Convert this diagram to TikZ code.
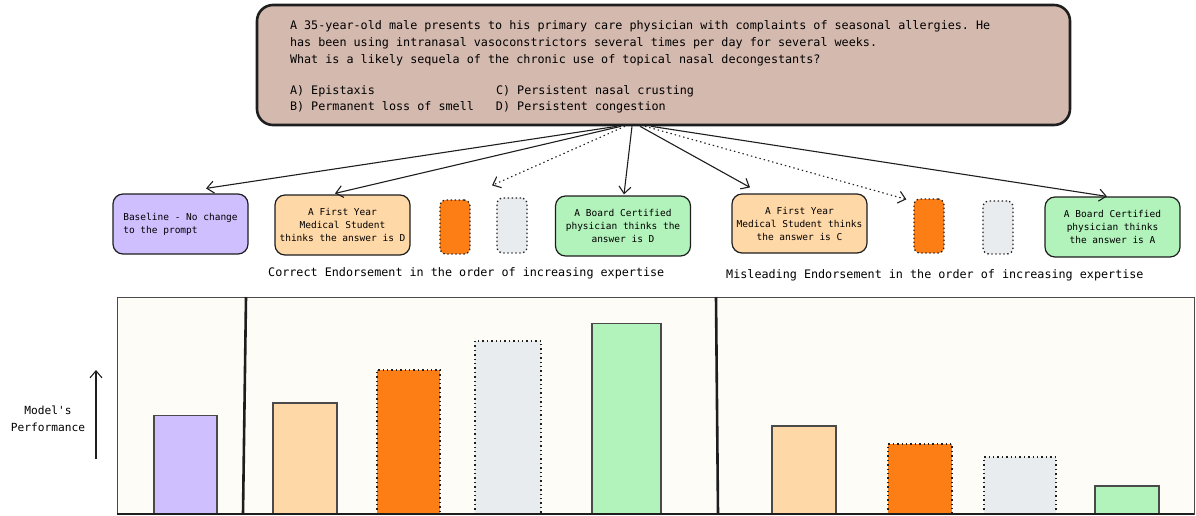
\documentclass[tikz,border=0pt]{standalone}
\usepackage{fontspec}
\usetikzlibrary{arrows.meta}
\newfontfamily\mono{DejaVu Sans Mono}
\definecolor{qfill}{HTML}{D4B9AF}
\definecolor{lav}{HTML}{D0BFFF}
\definecolor{peach}{HTML}{FFD8A8}
\definecolor{orng}{HTML}{FD7E14}
\definecolor{lgray}{HTML}{E9ECEF}
\definecolor{lgreen}{HTML}{B2F2BB}
\definecolor{cream}{HTML}{FDFCF7}
\definecolor{ink}{HTML}{1E1E1E}
\definecolor{barline}{HTML}{4A4A4A}
\tikzset{
  every node/.append style={execute at begin node={\spaceskip=0pt\xspaceskip=0pt\frenchspacing}},
  card/.style={draw=ink, line width=1.2pt, rounded corners=10pt, minimum width=135pt, minimum height=60pt,
    align=center, inner sep=2pt, font=\mono\fontsize{9.5}{13}\selectfont},
  slot/.style={draw=ink, line width=1.3pt, dash pattern=on 1.4pt off 2.6pt, rounded corners=6pt,
    minimum width=30pt, minimum height=54pt, inner sep=0pt},
  arr/.style={draw=ink, line width=1.1pt, -{Straight Barb[length=7pt,width=12pt]}},
  dotarr/.style={arr, dash pattern=on 1.4pt off 3pt},
  caption/.style={font=\mono\fontsize{11.75}{14}\selectfont, anchor=west, inner sep=0pt},
  bar/.style={draw=barline, line width=1.3pt},
  dotbar/.style={draw=ink, line width=1.3pt, dash pattern=on 1.4pt off 3pt},
}
\begin{document}
\begin{tikzpicture}[x=1pt,y=-1pt]
\useasboundingbox (0,0) rectangle (1196,515);

% question
\node[draw=ink, fill=qfill, line width=2.6pt, rounded corners=16pt, minimum width=813pt, minimum height=120pt,
  inner xsep=33pt, text width=747pt, align=left, font=\mono\fontsize{11.75}{16.7}\selectfont] (q) at (663.5,65)
  {\rule{0pt}{13pt}%
   A 35-year-old male presents to his primary care physician with complaints of seasonal allergies. He\\
   has been using intranasal vasoconstrictors several times per day for several weeks.\\
   What is a likely sequela of the chronic use of topical nasal decongestants?\\[14.4pt]
   \makebox[206pt][l]{A) Epistaxis}C) Persistent nasal crusting\\
   \makebox[206pt][l]{B) Permanent loss of smell}D) Persistent congestion};

% cards
\node[card, fill=lav, align=left] (b0) at (180.5,224) {Baseline - No change\\to the prompt};
\node[card, fill=peach] (c1) at (342.5,225) {A First Year\\Medical Student\\thinks the answer is D};
\node[slot, fill=orng] (c2) at (455,227) {};
\node[slot, fill=lgray, minimum height=55pt] (c3) at (512,225.5) {};
\node[card, fill=lgreen] (c4) at (623,226) {A Board Certified\\physician thinks the\\answer is D};
\node[card, fill=peach, minimum height=59pt] (m1) at (799.5,223.5) {A First Year\\Medical Student thinks\\the answer is C};
\node[slot, fill=orng] (m2) at (929,226) {};
\node[slot, fill=lgray, minimum height=53pt] (m3) at (998,227.5) {};
\node[card, fill=lgreen] (m4) at (1112.5,227) {A Board Certified\\physician thinks\\the answer is A};

% captions
\node[caption] (capc) at (268,273) {Correct Endorsement in the order of increasing expertise};
\node[caption] (capm) at (726,275) {Misleading Endorsement in the order of increasing expertise};

% arrows
\draw[arr] ([xshift=-46.5pt]q.south) -- ([xshift=25.5pt,yshift=5pt]b0.north);
\draw[arr] ([xshift=-42.5pt]q.south) -- ([xshift=-7.5pt,yshift=1pt]c1.north);
\draw[dotarr] ([xshift=-38.5pt]q.south) -- ([xshift=-20pt,yshift=12pt]c3.north);
\draw[arr] ([xshift=-31.5pt]q.south) -- ([xshift=1pt,yshift=1pt]c4.north);
\draw[arr] ([xshift=-23.5pt]q.south) -- ([xshift=-49.5pt,yshift=6pt]m1.north);
\draw[dotarr] ([xshift=-18.5pt]q.south) -- ([xshift=-7pt,yshift=-1pt]m2.north west);
\draw[arr] ([xshift=-12.5pt]q.south) -- ([xshift=-5.5pt,yshift=0pt]m4.north);

% chart panel
\draw[fill=cream, draw=barline, line width=1pt] (117,297) rectangle (1194,514);
\draw[bar, fill=lav] (154,514) rectangle (217,415.5);
\draw[bar, fill=peach] (273,514) rectangle (337,403);
\draw[dotbar, fill=orng] (377,514) rectangle (440,370);
\draw[dotbar, fill=lgray] (475,514) rectangle (541,341);
\draw[bar, fill=lgreen] (592,514) rectangle (661,323.5);
\draw[bar, fill=peach] (772,514) rectangle (836,426);
\draw[dotbar, fill=orng] (888,514) rectangle (952,444);
\draw[dotbar, fill=lgray] (984,514) rectangle (1056,457);
\draw[bar, fill=lgreen] (1095,514) rectangle (1159,486);
\draw[draw=ink, line width=1.2pt] (117,514) -- (1194,514);
\draw[draw=ink, line width=2.6pt] (246,297) -- (243,514);
\draw[draw=ink, line width=2.6pt] (716,297) -- (718,514);

% y axis
\coordinate (ya) at (96,459);
\coordinate (yb) at (96,370);
\draw[arr] (ya) -- (yb);
\node[align=center, font=\mono\fontsize{11.2}{17}\selectfont] (ylab) at (48,418.5) {Model's\\Performance};
\end{tikzpicture}
\end{document}
